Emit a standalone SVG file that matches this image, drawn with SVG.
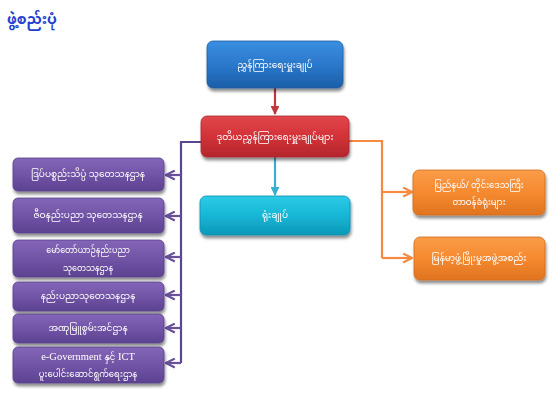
<svg xmlns="http://www.w3.org/2000/svg" width="560" height="400" viewBox="0 0 560 400">
<defs>
<style>
text{font-family:"Noto Sans Myanmar","Padauk","Myanmar Text","Noto Sans","DejaVu Sans",sans-serif;fill:#fff;font-size:9px;text-anchor:middle}
.title{fill:#1f3fd0;font-size:14px;font-weight:bold;text-anchor:start}
.sm{font-size:8.5px}
.xs{font-size:8px}
.box{stroke-width:0.8}
.ln{fill:none;stroke-width:2.2}
</style>
<filter id="sh" x="-10%" y="-10%" width="125%" height="140%">
<feGaussianBlur in="SourceAlpha" stdDeviation="1.6"/>
<feOffset dx="1" dy="2.5" result="b"/>
<feComponentTransfer><feFuncA type="linear" slope="0.45"/></feComponentTransfer>
<feMerge><feMergeNode/><feMergeNode in="SourceGraphic"/></feMerge>
</filter>
<linearGradient id="gBlue" x1="0" y1="0" x2="0" y2="1"><stop offset="0" stop-color="#3a8ee0"/><stop offset="0.5" stop-color="#2a78cc"/><stop offset="1" stop-color="#1c5ea8"/></linearGradient>
<linearGradient id="gRed" x1="0" y1="0" x2="0" y2="1"><stop offset="0" stop-color="#e2464c"/><stop offset="0.5" stop-color="#d23238"/><stop offset="1" stop-color="#b4262c"/></linearGradient>
<linearGradient id="gCyan" x1="0" y1="0" x2="0" y2="1"><stop offset="0" stop-color="#2ccbe6"/><stop offset="0.5" stop-color="#16b6d6"/><stop offset="1" stop-color="#0e98b8"/></linearGradient>
<linearGradient id="gPur" x1="0" y1="0" x2="0" y2="1"><stop offset="0" stop-color="#8466b8"/><stop offset="0.5" stop-color="#7254a6"/><stop offset="1" stop-color="#5c4290"/></linearGradient>
<linearGradient id="gOra" x1="0" y1="0" x2="0" y2="1"><stop offset="0" stop-color="#fb9c48"/><stop offset="0.5" stop-color="#f58a30"/><stop offset="1" stop-color="#e07420"/></linearGradient>
<marker id="aRed" viewBox="0 0 10 10" refX="9" refY="5" markerWidth="4" markerHeight="4" orient="auto"><path d="M0,0L10,5L0,10z" fill="#c0393f"/></marker>
<marker id="aCyan" viewBox="0 0 10 10" refX="9" refY="5" markerWidth="4" markerHeight="4" orient="auto"><path d="M0,0L10,5L0,10z" fill="#3aaed0"/></marker>
<marker id="aPur" viewBox="0 0 10 10" refX="9" refY="5" markerWidth="5" markerHeight="5" orient="auto"><path d="M1,1L9,5L1,9" fill="none" stroke="#6a509a" stroke-width="2"/></marker>
<marker id="aOra" viewBox="0 0 10 10" refX="9" refY="5" markerWidth="5" markerHeight="5" orient="auto"><path d="M1,1L9,5L1,9" fill="none" stroke="#f58a40" stroke-width="2"/></marker>
</defs>
<rect width="560" height="400" fill="#fff"/>
<text class="title" x="7" y="24">ဖွဲ့စည်းပုံ</text>

<g id="connectors">
<path class="ln" d="M275,88 V114" stroke="#c0393f" marker-end="url(#aRed)"/>
<path class="ln" d="M275,157 V195" stroke="#3aaed0" marker-end="url(#aCyan)"/>
<path class="ln" d="M201,142 H181 V363" stroke="#5a4690"/>
<path class="ln" d="M181,175 H166" stroke="#6a509a" marker-end="url(#aPur)"/>
<path class="ln" d="M181,216 H166" stroke="#6a509a" marker-end="url(#aPur)"/>
<path class="ln" d="M181,257 H166" stroke="#6a509a" marker-end="url(#aPur)"/>
<path class="ln" d="M181,295 H166" stroke="#6a509a" marker-end="url(#aPur)"/>
<path class="ln" d="M181,328 H166" stroke="#6a509a" marker-end="url(#aPur)"/>
<path class="ln" d="M181,363 H166" stroke="#6a509a" marker-end="url(#aPur)"/>
<path class="ln" d="M349,141 H382 V258" stroke="#f58a40"/>
<path class="ln" d="M382,192 H412" stroke="#f58a40" marker-end="url(#aOra)"/>
<path class="ln" d="M382,258 H412" stroke="#f58a40" marker-end="url(#aOra)"/>
</g>

<g id="dg" filter="url(#sh)"><rect x="207" y="41" width="136" height="47" rx="6" fill="url(#gBlue)" stroke="#1d5da0" class="box"/><text x="275" y="68">ညွှန်ကြားရေးမှူးချုပ်</text></g>
<g id="ddg" filter="url(#sh)"><rect x="201" y="116" width="148" height="41" rx="6" fill="url(#gRed)" stroke="#a82a30" class="box"/><text x="275" y="140">ဒုတိယညွှန်ကြားရေးမှူးချုပ်များ</text></g>
<g id="hq" filter="url(#sh)"><rect x="200" y="196" width="150" height="39" rx="6" fill="url(#gCyan)" stroke="#0e90b0" class="box"/><text x="275" y="218">ရုံးချုပ်</text></g>

<g id="d1" filter="url(#sh)"><rect x="13" y="158" width="151" height="33" rx="5" fill="url(#gPur)" stroke="#56408a" class="box"/><text x="88" y="177">ဒြပ်ပစ္စည်းသိပ္ပံ သုတေသနဌာန</text></g>
<g id="d2" filter="url(#sh)"><rect x="13" y="198" width="151" height="35" rx="5" fill="url(#gPur)" stroke="#56408a" class="box"/><text x="88" y="218">ဇီဝနည်းပညာ သုတေသနဌာန</text></g>
<g id="d3" filter="url(#sh)"><rect x="13" y="240" width="151" height="37" rx="5" fill="url(#gPur)" stroke="#56408a" class="box"/><text class="xs" x="88" y="253">မော်တော်ယာဉ်နည်းပညာ</text><text class="xs" x="88" y="271">သုတေသနဌာန</text></g>
<g id="d4" filter="url(#sh)"><rect x="13" y="282" width="151" height="29" rx="5" fill="url(#gPur)" stroke="#56408a" class="box"/><text x="88" y="299">နည်းပညာသုတေသနဌာန</text></g>
<g id="d5" filter="url(#sh)"><rect x="13" y="314" width="151" height="29" rx="5" fill="url(#gPur)" stroke="#56408a" class="box"/><text x="88" y="331">အဏုမြူစွမ်းအင်ဌာန</text></g>
<g id="d6" filter="url(#sh)"><rect x="13" y="347" width="151" height="36" rx="5" fill="url(#gPur)" stroke="#56408a" class="box"/><text x="88" y="360" style="font-family:'Liberation Serif',serif;font-size:10.5px">e-Government <tspan style="font-family:'Noto Sans Myanmar','Padauk',sans-serif;font-size:8.5px">နှင့်</tspan> ICT</text><text class="sm" x="88" y="377">ပူးပေါင်းဆောင်ရွက်ရေးဌာန</text></g>

<g id="r1" filter="url(#sh)"><rect x="413" y="170" width="132" height="45" rx="6" fill="url(#gOra)" stroke="#d06c1c" class="box"/><text class="sm" x="479" y="188">ပြည်နယ်/ တိုင်းဒေသကြီး</text><text class="sm" x="479" y="205">တာဝန်ခံရုံးများ</text></g>
<g id="r2" filter="url(#sh)"><rect x="414" y="237" width="131" height="43" rx="6" fill="url(#gOra)" stroke="#d06c1c" class="box"/><text x="479" y="261">မြန်မာ့ဖွံ့ဖြိုးမှုအဖွဲ့အစည်း</text></g>
</svg>
